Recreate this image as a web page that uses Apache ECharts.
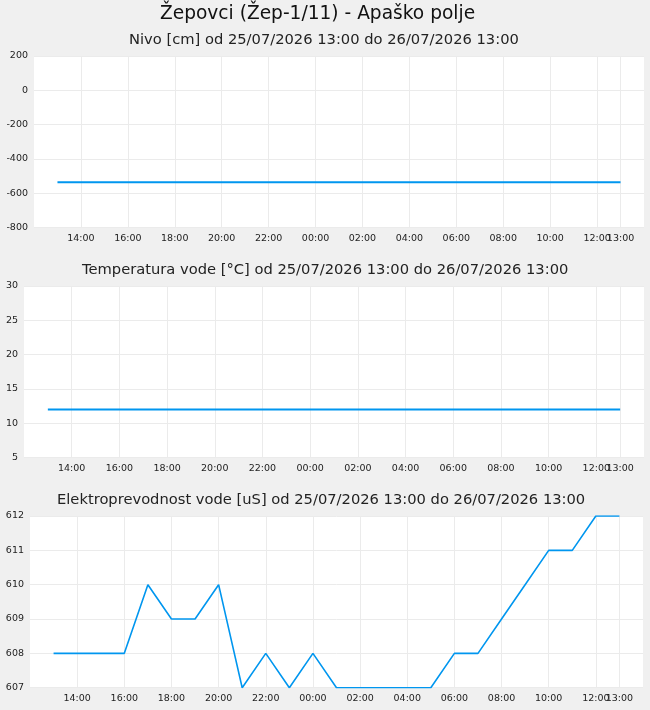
<!DOCTYPE html>
<html><head><meta charset="utf-8">
<script src="https://cdn.jsdelivr.net/npm/echarts@6/dist/echarts.min.js"></script>
<style>html,body{margin:0;padding:0;background:#f0f0f0}#c{width:650px;height:710px}</style>
</head><body><div id="c"></div><script>
// ---- data ----
const times = ['25/07 13:00','25/07 14:00','25/07 15:00','25/07 16:00','25/07 17:00','25/07 18:00','25/07 19:00','25/07 20:00','25/07 21:00','25/07 22:00','25/07 23:00',
  '26/07 00:00','26/07 01:00','26/07 02:00','26/07 03:00','26/07 04:00','26/07 05:00','26/07 06:00','26/07 07:00','26/07 08:00','26/07 09:00','26/07 10:00','26/07 11:00','26/07 12:00','26/07 13:00'];
const axisPadStart = '25/07 12:00';
const axisPadEnd = '26/07 14:00';
const nivo = [-535,-535,-535,-535,-535,-535,-535,-535,-535,-535,-535,-535,-535,-535,-535,-535,-535,-535,-535,-535,-535,-535,-535,-535,-535];
const temperatura = [12,12,12,12,12,12,12,12,12,12,12,12,12,12,12,12,12,12,12,12,12,12,12,12,12];
const elektroprevodnost = [608,608,608,608,610,609,609,610,607,608,607,608,607,607,607,607,607,608,608,609,610,611,611,612,612];
const mainTitle = 'Žepovci (Žep-1/11) - Apaško polje';
const subTitles = [
  'Nivo [cm] od 25/07/2026 13:00 do 26/07/2026 13:00',
  'Temperatura vode [°C] od 25/07/2026 13:00 do 26/07/2026 13:00',
  'Elektroprevodnost vode [uS] od 25/07/2026 13:00 do 26/07/2026 13:00'
];
const yRanges = [
  {min: -800, max: 200, interval: 200},
  {min: 5, max: 30, interval: 5},
  {min: 607, max: 612, interval: 1}
];

// ---- chart ----
const FONT = 'DejaVu Sans';
const LINE = '#0096ef';
const GRIDC = '#ebebeb';
const categories = [axisPadStart].concat(times, [axisPadEnd]);
const lastIdx = categories.length - 2;
const showEven = (i) => i >= 2 && i <= lastIdx - 1 && i % 2 === 0;
const showLast = (i) => i === lastIdx;
const pad = (arr) => [null].concat(arr, [null]);
const grids = [
  {left: 34, right: 6, top: 56, height: 171.7},
  {left: 24, right: 6, top: 286, height: 171.7},
  {left: 30, right: 7, top: 516, height: 171.7}
];
const series = [nivo, temperatura, elektroprevodnost];
const widths = [2, 2, 1.6];
const subTops = [33, 263, 493];
const subLefts = [129, 82, 57];

function makeX(k, fn) {
  return {
    type: 'category', gridIndex: k, data: categories, boundaryGap: false, position: 'bottom',
    axisLine: {show: false}, axisTick: {show: false},
    axisLabel: {interval: fn, formatter: (v) => v.slice(6), fontFamily: FONT,
                fontSize: 9.5, color: '#222', margin: 6, hideOverlap: false},
    splitLine: {show: true, interval: fn, lineStyle: {color: GRIDC, width: 1}}
  };
}
const xAxes = [];
grids.forEach((g, k) => { xAxes.push(makeX(k, showEven)); xAxes.push(makeX(k, showLast)); });

const option = {
  animation: false,
  backgroundColor: '#f0f0f0',
  textStyle: {fontFamily: FONT},
  title: [{text: mainTitle, left: 160, top: 5, padding: 0,
           textStyle: {fontFamily: FONT, fontSize: 18.6, fontWeight: 'normal', color: '#111'}}]
    .concat(subTitles.map((t, k) => ({text: t, left: subLefts[k], top: subTops[k], padding: 0,
           textStyle: {fontFamily: FONT, fontSize: 14.7, fontWeight: 'normal', color: '#222'}}))),
  grid: grids.map(g => Object.assign({show: true, backgroundColor: '#ffffff', borderWidth: 0}, g)),
  xAxis: xAxes,
  yAxis: yRanges.map((r, k) => ({
    type: 'value', gridIndex: k, min: r.min, max: r.max, interval: r.interval,
    axisLine: {show: false}, axisTick: {show: false},
    axisLabel: {fontFamily: FONT, fontSize: 9.5, color: '#222', margin: 6},
    splitLine: {show: true, lineStyle: {color: GRIDC, width: 1}}
  })),
  series: series.map((d, k) => ({
    type: 'line', xAxisIndex: 2 * k, yAxisIndex: k, data: pad(d), showSymbol: false, symbol: 'none',
    lineStyle: {color: LINE, width: widths[k]}, itemStyle: {color: LINE}
  }))
};
const chart = echarts.init(document.getElementById('c'), null, {renderer: 'canvas'});
chart.setOption(option);
</script></body></html>
